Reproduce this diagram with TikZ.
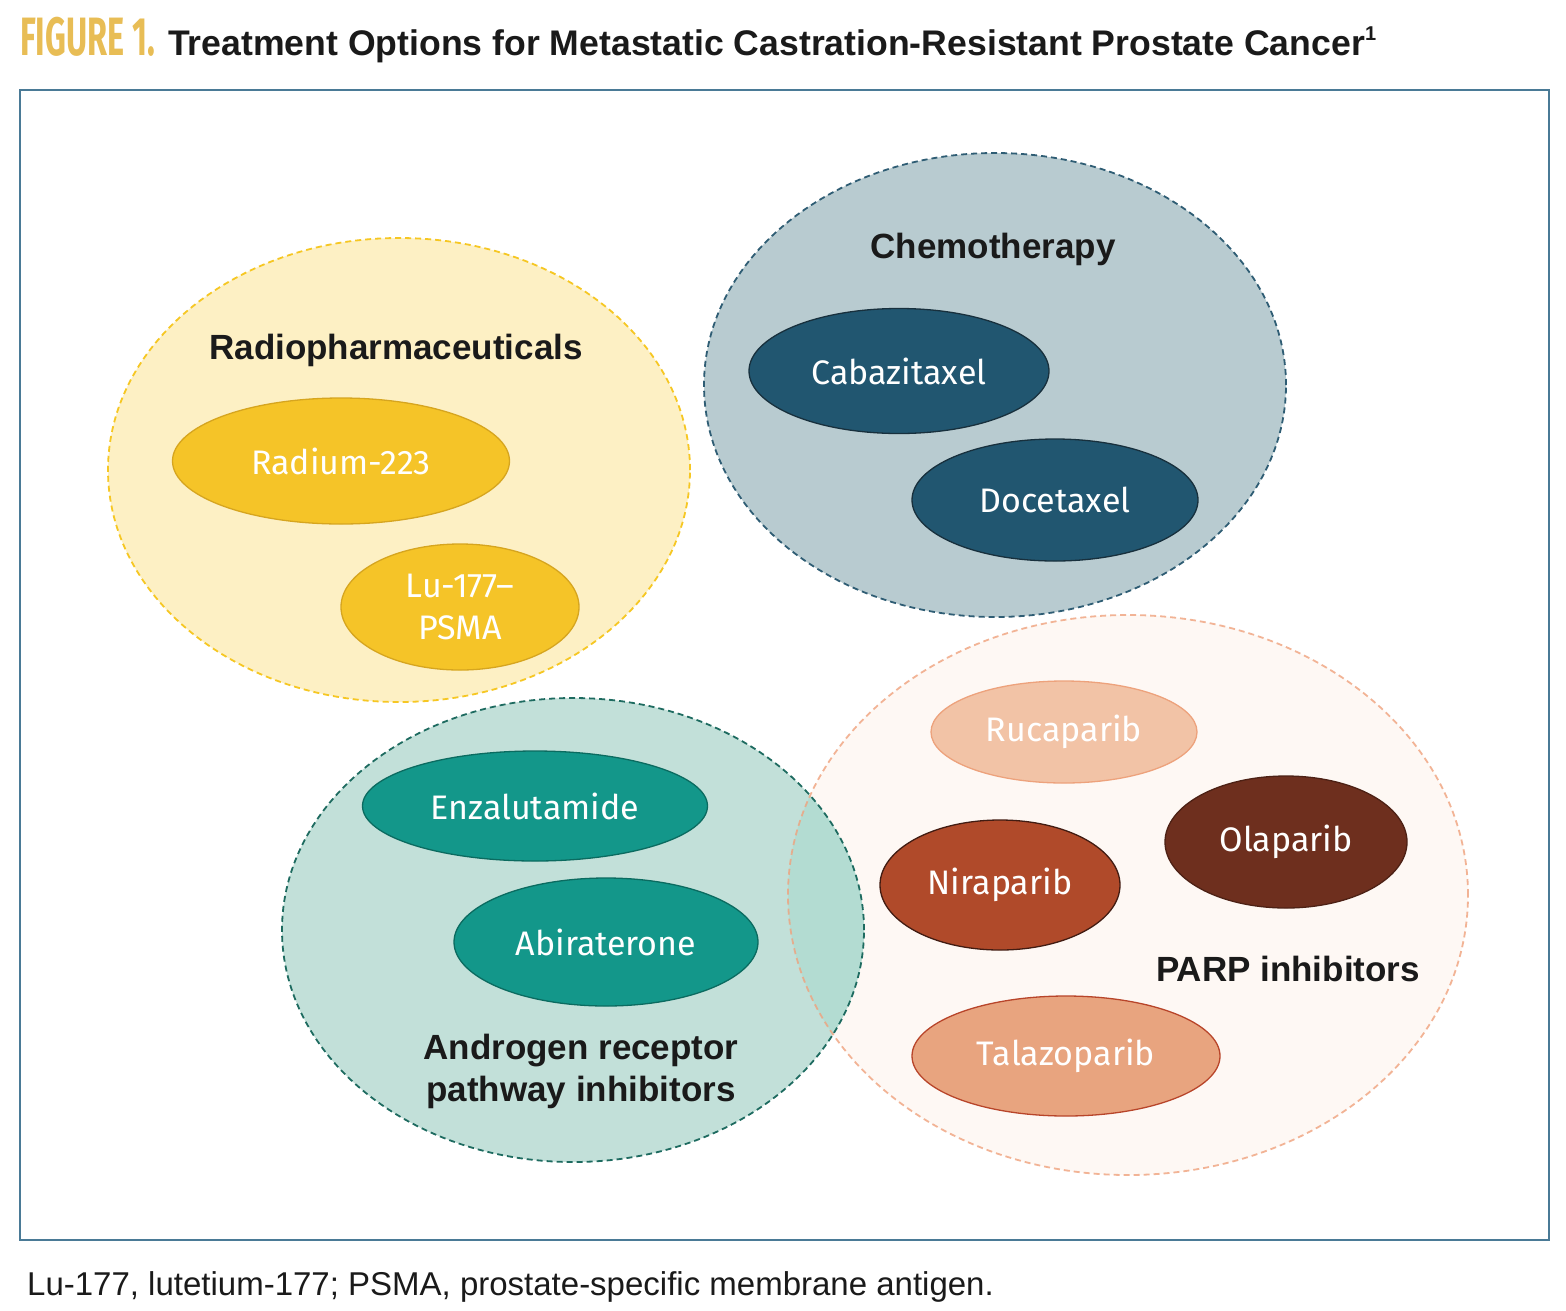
\documentclass[tikz,border=0pt]{standalone}
\usepackage{fontspec}
\setmainfont{Fira Sans}
\newfontfamily\figfont[FakeStretch=0.6]{Fira Sans}
\newfontfamily\grot{Liberation Sans}
\newfontfamily\capfont{Liberation Sans}
\usetikzlibrary{shapes.geometric}
\definecolor{figgold}{HTML}{E8BD55}
\definecolor{framec}{HTML}{4A7A96}
\definecolor{radfill}{HTML}{FDF0C4}
\definecolor{radline}{HTML}{F6C723}
\definecolor{radin}{HTML}{F5C428}
\definecolor{radinl}{HTML}{D6A51F}
\definecolor{chefill}{HTML}{B8CBD0}
\definecolor{cheline}{HTML}{2F5D74}
\definecolor{chein}{HTML}{215670}
\definecolor{cheinl}{HTML}{18303D}
\definecolor{andfill}{HTML}{C2E0D9}
\definecolor{andover}{HTML}{B3DCD2}
\definecolor{andline}{HTML}{1E6B60}
\definecolor{andin}{HTML}{13978A}
\definecolor{andinl}{HTML}{0B6B60}
\definecolor{parfill}{HTML}{FEF8F4}
\definecolor{parline}{HTML}{EFA27D}
\definecolor{rucfill}{HTML}{F2C3A6}
\definecolor{rucline}{HTML}{EDA27C}
\definecolor{olafill}{HTML}{6E2F1E}
\definecolor{nirfill}{HTML}{B04A2A}
\definecolor{talfill}{HTML}{E8A47F}
\definecolor{talline}{HTML}{B8452A}
\definecolor{txt}{HTML}{1A1A1A}
\tikzset{
  drug/.style={ellipse, inner sep=0pt, line width=1.3pt, text=white,
    font=\fontsize{34}{42}\selectfont},
  grouplabel/.style={text=txt, font=\grot\bfseries\fontsize{35}{42}\selectfont, inner sep=0pt},
  groupline/.style={dashed, dash pattern=on 6pt off 4pt, line width=1.8pt}
}
\begin{document}
\begin{tikzpicture}[x=1pt,y=-1pt]
\useasboundingbox (0,0) rectangle (1566,1310);
\fill[white] (0,0) rectangle (1566,1310);
% title
\node[anchor=base west, inner sep=0pt, text=figgold, font=\figfont\bfseries\fontsize{54}{60}\selectfont] (fig) at (20,55) {FIGURE 1.};
\node[anchor=base west, inner sep=0pt, text=txt, font=\grot\bfseries\fontsize{35.6}{40}\selectfont] (title) at (168,55) {Treatment Options for Metastatic Castration-Resistant Prostate Cancer\raisebox{0.42em}{\fontsize{20}{20}\selectfont 1}};
% frame
\draw[framec, line width=1.6pt] (20,90) rectangle (1549,1240);
% caption
\node[anchor=base west, inner sep=0pt, text=txt, font=\capfont\fontsize{33}{36}\selectfont] (cap) at (27,1295) {Lu-177, lutetium-177; PSMA, prostate-specific membrane antigen.};

% group ellipses
\fill[radfill] (399,470) ellipse [x radius=291pt, y radius=232pt];
\draw[radline, groupline] (399,470) ellipse [x radius=291pt, y radius=232pt];
\fill[chefill] (995,385) ellipse [x radius=291pt, y radius=232pt];
\draw[cheline, groupline] (995,385) ellipse [x radius=291pt, y radius=232pt];
\fill[parfill] (1128,895) ellipse [x radius=340pt, y radius=280pt];
\fill[andfill] (573,930) ellipse [x radius=291pt, y radius=232pt];
\begin{scope}
\clip (1128,895) ellipse [x radius=340pt, y radius=280pt];
\fill[andover] (573,930) ellipse [x radius=291pt, y radius=232pt];
\end{scope}
\draw[parline, groupline, draw opacity=0.8] (1128,895) ellipse [x radius=340pt, y radius=280pt];
\draw[andline, groupline] (573,930) ellipse [x radius=291pt, y radius=232pt];

% group labels
\node[grouplabel, anchor=base] (radlab) at (396,359) {Radiopharmaceuticals};
\node[grouplabel, anchor=base] (chelab) at (993,258) {Chemotherapy};
\node[grouplabel, anchor=center, align=center] (andlab) at (581,1071) {Androgen receptor\\pathway inhibitors};
\node[grouplabel, anchor=base] (parlab) at (1288,981) {PARP inhibitors};

% drugs
\node[drug, fill=radin, draw=radinl, minimum width=337pt, minimum height=126pt] (ra) at (341,461) {Radium-223};
\node[drug, fill=radin, draw=radinl, minimum width=238pt, minimum height=126pt, align=center] (lu) at (460,607) {Lu-177–\\PSMA};
\node[drug, fill=chein, draw=cheinl, minimum width=300pt, minimum height=125pt] (cab) at (899,371) {Cabazitaxel};
\node[drug, fill=chein, draw=cheinl, minimum width=286pt, minimum height=122pt] (doc) at (1055,500) {Docetaxel};
\node[drug, fill=andin, draw=andinl, minimum width=345pt, minimum height=110pt] (enz) at (535,806) {Enzalutamide};
\node[drug, fill=andin, draw=andinl, minimum width=304pt, minimum height=128pt] (abi) at (606,942) {Abiraterone};
\node[drug, fill=rucfill, draw=rucline, minimum width=266pt, minimum height=102pt] (ruc) at (1064,732) {Rucaparib};
\node[drug, fill=olafill, draw=olafill!70!black, minimum width=242pt, minimum height=132pt] (ola) at (1286,842) {Olaparib};
\node[drug, fill=nirfill, draw=olafill!60!black, minimum width=240pt, minimum height=130pt] (nir) at (1000,885) {Niraparib};
\node[drug, fill=talfill, draw=talline, minimum width=308pt, minimum height=120pt] (tal) at (1066,1056) {Talazoparib};
\end{tikzpicture}
\end{document}
